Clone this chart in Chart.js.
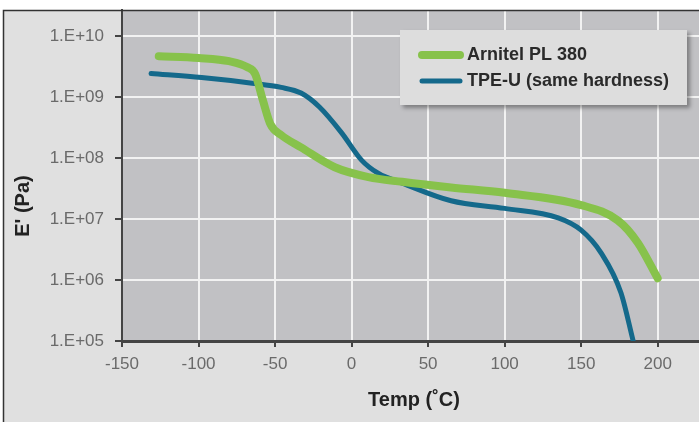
<!DOCTYPE html>
<html><head><meta charset="utf-8">
<script src="https://cdn.jsdelivr.net/npm/chart.js@4/dist/chart.umd.min.js"></script>
<style>html,body{margin:0;padding:0;background:#fff;overflow:hidden}</style>
</head><body><canvas id="c" width="699" height="422"></canvas>
<script>
// ---- data ----
const arnitelTemp = [-126, -100, -80, -68, -63, -58, -53, -46, -33, -11, 11, 33, 65, 100, 150, 174, 187, 200];
const arnitelE = [4.7e9, 4.4e9, 3.9e9, 3.1e9, 2.4e9, 9.0e8, 3.6e8, 2.4e8, 1.5e8, 7.1e7, 4.9e7, 4.1e7, 3.3e7, 2.7e7, 1.7e7, 9.5e6, 4.1e6, 1.07e6];
const tpeuTemp = [-131, -98, -65, -46, -33, -21, -6.5, 6.5, 17.6, 33, 65, 100, 135, 150, 163, 176, 184];
const tpeuE = [2.45e9, 2.1e9, 1.7e9, 1.45e9, 1.17e9, 6.9e8, 2.6e8, 9.3e7, 5.6e7, 3.9e7, 2.0e7, 1.5e7, 1.05e7, 6.6e6, 2.8e6, 6.2e5, 1.0e5];
const seriesLabels = ['Arnitel PL 380', 'TPE-U (same hardness)'];
const xTickValues = [-150, -100, -50, 0, 50, 100, 150, 200];
const yTickExponents = [5, 6, 7, 8, 9, 10];
const xTitle = 'Temp (˚C)';
const yTitle = "E' (Pa)";

const toPoints = (xs, ys) => xs.map((x, i) => ({x: x, y: ys[i]}));
const COLORS = ['#87c24b', '#14698b'];
const WIDTHS = [8, 5];

const bgPlugin = {
  id: 'bg',
  beforeDraw(chart) {
    const ctx = chart.ctx, a = chart.chartArea;
    ctx.save();
    ctx.fillStyle = '#ffffff';
    ctx.fillRect(0, 0, chart.width, chart.height);
    ctx.fillStyle = '#e0e0e0';
    ctx.fillRect(3, 10, chart.width - 3, chart.height - 10);
    ctx.fillStyle = '#c1c1c4';
    ctx.fillRect(a.left, a.top, a.right - a.left, a.bottom - a.top);
    ctx.restore();
  },
  afterDraw(chart) {
    const ctx = chart.ctx;
    ctx.save();
    ctx.strokeStyle = '#333';
    ctx.lineWidth = 1.5;
    ctx.beginPath();
    ctx.moveTo(3.5, chart.height); ctx.lineTo(3.5, 10.5); ctx.lineTo(chart.width, 10.5);
    ctx.stroke();
    // legend box
    const bx = 400, by = 30, bw = 287, bh = 75;
    ctx.shadowColor = 'rgba(0,0,0,0.35)';
    ctx.shadowBlur = 4;
    ctx.shadowOffsetX = 3;
    ctx.shadowOffsetY = 3;
    ctx.fillStyle = '#dddddd';
    ctx.fillRect(bx, by, bw, bh);
    ctx.shadowColor = 'transparent';
    const rows = [55, 81];
    chart.data.datasets.forEach((ds, i) => {
      ctx.strokeStyle = ds.borderColor;
      ctx.lineWidth = WIDTHS[i];
      ctx.lineCap = 'round';
      ctx.beginPath();
      ctx.moveTo(422, rows[i]); ctx.lineTo(460, rows[i]);
      ctx.stroke();
      ctx.fillStyle = '#2a2a2a';
      ctx.font = 'bold 18px "Liberation Sans", Arial, sans-serif';
      ctx.textBaseline = 'middle';
      ctx.textAlign = 'left';
      ctx.fillText(ds.label, 467, rows[i]);
    });
    // axis titles
    ctx.fillStyle = '#222';
    ctx.font = 'bold 20px "Liberation Sans", Arial, sans-serif';
    ctx.textAlign = 'center';
    ctx.textBaseline = 'middle';
    ctx.fillText(xTitle, 414, 400);
    ctx.translate(23, 206);
    ctx.rotate(-Math.PI / 2);
    ctx.fillText(yTitle, 0, 0);
    ctx.restore();
  }
};

new Chart(document.getElementById('c'), {
  type: 'line',
  data: {
    datasets: [
      {label: seriesLabels[0], data: toPoints(arnitelTemp, arnitelE), borderColor: COLORS[0], borderWidth: WIDTHS[0]},
      {label: seriesLabels[1], data: toPoints(tpeuTemp, tpeuE), borderColor: COLORS[1], borderWidth: WIDTHS[1]}
    ].map(d => Object.assign(d, {pointRadius: 0, cubicInterpolationMode: 'monotone', borderCapStyle: 'round', borderJoinStyle: 'round', fill: false}))
  },
  options: {
    responsive: false,
    animation: false,
    devicePixelRatio: 1,
    layout: {padding: {left: 0, top: 10, right: 0, bottom: 0}},
    plugins: {legend: {display: false}, tooltip: {enabled: false}},
    scales: {
      x: {
        type: 'linear', min: -150, max: 227,
        afterBuildTicks: s => { s.ticks = xTickValues.map(v => ({value: v})); },
        afterFit: s => { s.height = 81; s.paddingLeft = 0; s.paddingRight = 0; },
        ticks: {font: {size: 17, family: '"Liberation Sans", Arial, sans-serif'}, color: '#6a6a6a', padding: 7, maxRotation: 0},
        grid: {color: '#f2f2f2', lineWidth: 2, tickColor: '#444', tickLength: 6},
        border: {color: '#444', width: 3}
      },
      y: {
        type: 'logarithmic', min: 1e5, max: 2.7e10,
        afterBuildTicks: s => { s.ticks = yTickExponents.map(e => ({value: Math.pow(10, e)})); },
        afterFit: s => { s.width = 122; s.paddingTop = 0; s.paddingBottom = 0; },
        ticks: {
          font: {size: 17, family: '"Liberation Sans", Arial, sans-serif'}, color: '#6a6a6a', padding: 11,
          callback: v => '1.E+' + String(Math.round(Math.log10(v))).padStart(2, '0')
        },
        grid: {color: '#f2f2f2', lineWidth: 2, tickColor: '#444', tickLength: 7},
        border: {color: '#444', width: 2}
      }
    }
  },
  plugins: [bgPlugin]
});
</script></body></html>
